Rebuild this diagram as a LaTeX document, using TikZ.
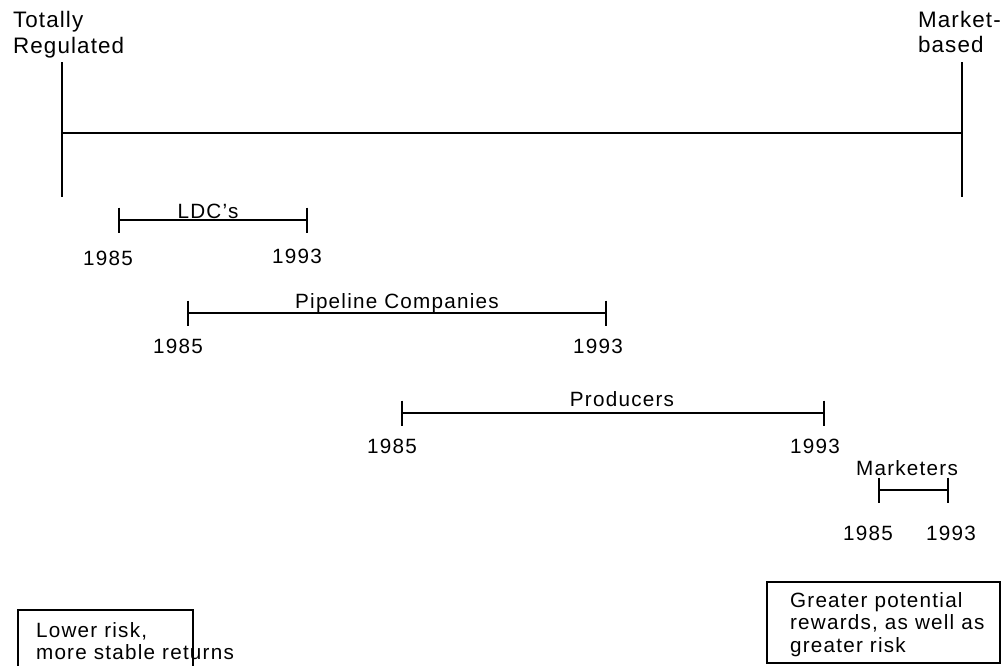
\documentclass[tikz,border=0pt]{standalone}
\usepackage{fontspec}
\setmainfont{Liberation Sans}[LetterSpace=6]
\begin{document}
\begin{tikzpicture}[x=0.75pt,y=-0.75pt,line width=1.6pt,
    txt/.style={inner sep=0pt,font=\fontsize{15.5}{18}\selectfont},
    endtxt/.style={inner sep=0pt,font=\addfontfeature{LetterSpace=5}\fontsize{16.8}{20}\selectfont}]
  \useasboundingbox (0,0) rectangle (1005,665);
  % regulation scale
  \coordinate (regTop) at (62,62); \coordinate (regBot) at (62,197);
  \coordinate (mktTop) at (962,62); \coordinate (mktBot) at (962,197);
  \coordinate (regMid) at (62,133); \coordinate (mktMid) at (962,133);
  \draw[line width=2pt] (regTop) -- (regBot);
  \draw[line width=2pt] (mktTop) -- (mktBot);
  \draw (regMid) -- (mktMid);
  \node[endtxt,anchor=base west] (tot) at (12,27) {Totally};
  \node[endtxt,anchor=base west] (reg) at (12,53) {Regulated};
  \node[endtxt,anchor=base west] (mkt) at (917,27) {Market-};
  \node[endtxt,anchor=base west] (bsd) at (917,52) {based};
  % sector bars
  \foreach \nm/\xa/\xb/\yy in {ldc/119/307/220,pipe/188/606/313,prod/402/824/413,mktr/879/948/490}{
    \coordinate (\nm A) at (\xa,\yy);
    \coordinate (\nm B) at (\xb,\yy);
    \draw (\nm A) -- (\nm B);
    \draw[line width=2pt] (\nm A) ++(0,-12.5) -- ++(0,25);
    \draw[line width=2pt] (\nm B) ++(0,-12.5) -- ++(0,25);
  }
  \node[txt,anchor=base] (ldc) at (208,218) {LDC's};
  \node[txt,anchor=base] (ldcy1) at (108,265) {1985};
  \node[txt,anchor=base] (ldcy2) at (297,263) {1993};
  \node[txt,anchor=base] (pipe) at (397,308) {Pipeline Companies};
  \node[txt,anchor=base] (pipey1) at (178,353) {1985};
  \node[txt,anchor=base] (pipey2) at (598,353) {1993};
  \node[txt,anchor=base] (prod) at (622,406) {Producers};
  \node[txt,anchor=base] (prody1) at (392,453) {1985};
  \node[txt,anchor=base] (prody2) at (815,453) {1993};
  \node[txt,anchor=base] (mktr) at (907,475) {Marketers};
  \node[txt,anchor=base] (mktry1) at (868,540) {1985};
  \node[txt,anchor=base] (mktry2) at (951,540) {1993};
  % risk boxes
  \coordinate (lowA) at (18,610); \coordinate (lowB) at (193,675);
  \draw (lowA) rectangle (lowB);
  \node[txt,anchor=base west] (low1) at (35,637) {Lower risk,};
  \node[txt,anchor=base west] (low2) at (35,659) {more stable returns};
  \coordinate (highA) at (767,582); \coordinate (highB) at (1000,663);
  \draw (highA) rectangle (highB);
  \node[txt,anchor=base west] (high1) at (789,607) {Greater potential};
  \node[txt,anchor=base west] (high2) at (789,629) {rewards, as well as};
  \node[txt,anchor=base west] (high3) at (789,652) {greater risk};
\end{tikzpicture}
\end{document}
